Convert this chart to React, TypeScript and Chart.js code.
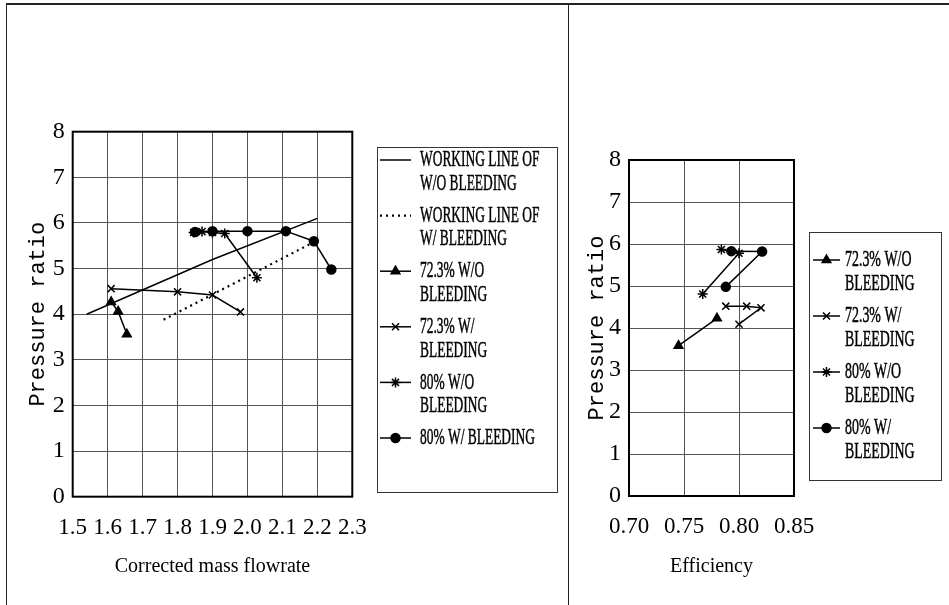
import React, { useEffect, useRef } from 'react';
import { Chart, registerables } from 'chart.js';
import { drawPoint } from 'chart.js/helpers';

Chart.register(...registerables);

// ---- Corrected mass flowrate vs. pressure ratio ----
const workingLineNoBleedX = [1.54, 1.9, 2.2];
const workingLineNoBleedY = [4.0, 5.2, 6.1];
const workingLineBleedX = [1.76, 2.19];
const workingLineBleedY = [3.88, 5.58];
const flow723NoBleedX = [1.61, 1.63, 1.655];
const flow723NoBleedY = [4.27, 4.06, 3.56];
const flow723BleedX = [1.61, 1.8, 1.9, 1.98];
const flow723BleedY = [4.56, 4.49, 4.42, 4.05];
const flow80NoBleedX = [1.846, 1.87, 1.9, 1.935, 2.027];
const flow80NoBleedY = [5.79, 5.81, 5.79, 5.77, 4.8];
const flow80BleedX = [1.85, 1.9, 2.0, 2.11, 2.19, 2.24];
const flow80BleedY = [5.8, 5.82, 5.82, 5.82, 5.6, 4.98];

// ---- Efficiency vs. pressure ratio ----
const eff723NoBleedX = [0.78, 0.745];
const eff723NoBleedY = [4.23, 3.58];
const eff723BleedX = [0.788, 0.807, 0.82, 0.8];
const eff723BleedY = [4.52, 4.52, 4.48, 4.09];
const eff80NoBleedX = [0.784, 0.8, 0.767];
const eff80NoBleedY = [5.87, 5.78, 4.81];
const eff80BleedX = [0.793, 0.821, 0.788];
const eff80BleedY = [5.83, 5.82, 4.98];

// ---- Tick labels ----
const flowTicks = [1.5, 1.6, 1.7, 1.8, 1.9, 2.0, 2.1, 2.2, 2.3];
const effTicks = [0.7, 0.75, 0.8, 0.85];
const ratioTicks = [0, 1, 2, 3, 4, 5, 6, 7, 8];

// ---- Legend text (wrapped lines) ----
const flowLegend = [
  ['WORKING LINE OF', 'W/O BLEEDING'],
  ['WORKING LINE OF', 'W/ BLEEDING'],
  ['72.3% W/O', 'BLEEDING'],
  ['72.3% W/', 'BLEEDING'],
  ['80% W/O', 'BLEEDING'],
  ['80% W/ BLEEDING'],
];
const effLegend = [
  ['72.3% W/O', 'BLEEDING'],
  ['72.3% W/', 'BLEEDING'],
  ['80% W/O', 'BLEEDING'],
  ['80% W/', 'BLEEDING'],
];

const SERIF = '"Liberation Serif", "Times New Roman", serif';
const MONO = '"Liberation Mono", "Courier New", monospace';

const zip = (xs: number[], ys: number[]) => xs.map((x, i) => ({ x, y: ys[i] }));

const lineSeries = (label: string[], xs: number[], ys: number[], extra: any = {}) => ({
  label: label.join(' '),
  legendLines: label,
  data: zip(xs, ys),
  showLine: true,
  borderColor: '#000',
  backgroundColor: '#000',
  borderWidth: 1.5,
  pointRadius: 0,
  pointBorderWidth: 1.5,
  ...extra,
});

// Plot frame drawn around the chart area
const framePlugin = {
  id: 'plotFrame',
  afterDatasetsDraw(chart: any) {
    const { ctx, chartArea } = chart;
    ctx.save();
    ctx.strokeStyle = '#000';
    ctx.lineWidth = 2;
    ctx.strokeRect(chartArea.left, chartArea.top, chartArea.right - chartArea.left, chartArea.bottom - chartArea.top);
    ctx.restore();
  },
};

// Boxed legend with wrapped, condensed labels
const boxLegendPlugin = {
  id: 'boxLegend',
  afterDraw(chart: any, _args: any, opts: any) {
    if (!opts || !opts.box) return;
    const { ctx } = chart;
    const { box, firstLine, entryPitch, linePitch, sampleX0, sampleX1, textX, fontSize, scaleX } = opts;
    ctx.save();
    ctx.strokeStyle = '#333';
    ctx.lineWidth = 1;
    ctx.strokeRect(box.left + 0.5, box.top + 0.5, box.right - box.left, box.bottom - box.top);
    chart.data.datasets.forEach((ds: any, i: number) => {
      const y = firstLine + i * entryPitch;
      ctx.save();
      ctx.strokeStyle = '#000';
      ctx.fillStyle = '#000';
      ctx.lineWidth = ds.borderWidth;
      ctx.setLineDash(ds.borderDash || []);
      ctx.beginPath();
      ctx.moveTo(sampleX0, y);
      ctx.lineTo(sampleX1, y);
      ctx.stroke();
      ctx.setLineDash([]);
      if (ds.pointRadius > 0) {
        ctx.lineWidth = ds.pointBorderWidth;
        drawPoint(ctx, { pointStyle: ds.pointStyle, radius: ds.pointRadius, rotation: 0, borderWidth: ds.pointBorderWidth } as any, (sampleX0 + sampleX1) / 2, y);
      }
      ctx.font = `${fontSize}px ${SERIF}`;
      ctx.textBaseline = 'middle';
      ctx.textAlign = 'left';
      ctx.lineWidth = 0.5;
      (ds.legendLines as string[]).forEach((line, j) => {
        ctx.save();
        ctx.translate(textX, y + j * linePitch);
        ctx.scale(scaleX, 1);
        ctx.fillText(line, 0, 0);
        ctx.strokeText(line, 0, 0);
        ctx.restore();
      });
      ctx.restore();
    });
    ctx.restore();
  },
};

const makeOptions = (cfg: any) => ({
  responsive: false,
  animation: false as const,
  events: [],
  layout: { padding: { left: 0, top: cfg.top, right: cfg.right, bottom: 0 } },
  plugins: {
    legend: { display: false },
    tooltip: { enabled: false },
    boxLegend: cfg.legend,
  },
  scales: {
    x: {
      type: 'linear',
      min: cfg.xTicks[0],
      max: cfg.xTicks[cfg.xTicks.length - 1],
      afterBuildTicks: (s: any) => { s.ticks = cfg.xTicks.map((v: number) => ({ value: v })); },
      afterFit: (s: any) => { s.height = cfg.xHeight; },
      grid: { color: '#555', lineWidth: 1, drawTicks: false },
      border: { display: false },
      ticks: {
        color: '#000',
        padding: 17,
        maxRotation: 0,
        autoSkip: false,
        font: { family: SERIF, size: 23 },
        callback: (v: any) => Number(v).toFixed(cfg.xDigits),
      },
      title: {
        display: true,
        text: cfg.xTitle,
        color: '#000',
        font: { family: SERIF, size: 20 },
        padding: { top: 0, bottom: 26 },
      },
    },
    y: {
      type: 'linear',
      min: 0,
      max: 8,
      afterBuildTicks: (s: any) => { s.ticks = ratioTicks.map((v) => ({ value: v })); },
      afterFit: (s: any) => { s.width = cfg.yWidth; },
      grid: { color: '#555', lineWidth: 1, drawTicks: false },
      border: { display: false },
      ticks: {
        color: '#000',
        padding: 8,
        font: { family: SERIF, size: 24 },
        callback: (v: any) => String(v),
      },
      title: {
        display: true,
        text: 'Pressure ratio',
        color: '#000',
        font: { family: MONO, size: 22 },
        padding: { top: cfg.yTitlePad, bottom: 0 },
      },
    },
  },
});

function ChartCanvas({ config, width, height, style }: any) {
  const ref = useRef<HTMLCanvasElement | null>(null);
  useEffect(() => {
    if (!ref.current) return;
    const chart = new Chart(ref.current, config);
    return () => chart.destroy();
  }, [config]);
  return <canvas ref={ref} width={width} height={height} style={{ position: 'absolute', ...style }} />;
}

const flowConfig: any = {
  type: 'scatter',
  data: {
    datasets: [
      lineSeries(flowLegend[0], workingLineNoBleedX, workingLineNoBleedY),
      lineSeries(flowLegend[1], workingLineBleedX, workingLineBleedY, { borderDash: [2, 4], borderWidth: 2.2 }),
      lineSeries(flowLegend[2], flow723NoBleedX, flow723NoBleedY, { pointStyle: 'triangle', pointRadius: 5 }),
      lineSeries(flowLegend[3], flow723BleedX, flow723BleedY, { pointStyle: 'crossRot', pointRadius: 5 }),
      lineSeries(flowLegend[4], flow80NoBleedX, flow80NoBleedY, { pointStyle: 'star', pointRadius: 5 }),
      lineSeries(flowLegend[5], flow80BleedX, flow80BleedY, { pointStyle: 'circle', pointRadius: 4.5 }),
    ],
  },
  options: makeOptions({
    top: 126.7,
    right: 214.7,
    xHeight: 108.3,
    yWidth: 65.7,
    yTitlePad: 17.8,
    xTicks: flowTicks,
    xDigits: 1,
    xTitle: 'Corrected mass flowrate',
    legend: {
      box: { left: 370, top: 142, right: 550, bottom: 487 },
      firstLine: 155,
      entryPitch: 55.6,
      linePitch: 23.5,
      sampleX0: 373,
      sampleX1: 404,
      textX: 413,
      fontSize: 24,
      scaleX: 0.56,
    },
  }),
  plugins: [framePlugin, boxLegendPlugin],
};

const effConfig: any = {
  type: 'scatter',
  data: {
    datasets: [
      lineSeries(effLegend[0], eff723NoBleedX, eff723NoBleedY, { pointStyle: 'triangle', pointRadius: 5 }),
      lineSeries(effLegend[1], eff723BleedX, eff723BleedY, { pointStyle: 'crossRot', pointRadius: 5 }),
      lineSeries(effLegend[2], eff80NoBleedX, eff80NoBleedY, { pointStyle: 'star', pointRadius: 5 }),
      lineSeries(effLegend[3], eff80BleedX, eff80BleedY, { pointStyle: 'circle', pointRadius: 4.5 }),
    ],
  },
  options: makeOptions({
    top: 155,
    right: 155,
    xHeight: 109,
    yWidth: 60,
    yTitlePad: 14.8,
    xTicks: effTicks,
    xDigits: 2,
    xTitle: 'Efficiency',
    legend: {
      box: { left: 240, top: 227, right: 372, bottom: 475 },
      firstLine: 255,
      entryPitch: 56,
      linePitch: 23.5,
      sampleX0: 244,
      sampleX1: 271,
      textX: 276,
      fontSize: 24,
      scaleX: 0.58,
    },
  }),
  plugins: [framePlugin, boxLegendPlugin],
};

export default function App() {
  const line = { position: 'absolute' as const, background: '#222' };
  return (
    <div style={{ position: 'absolute', left: 0, top: 0, width: 949, height: 605, background: '#fff', overflow: 'hidden' }}>
      <div style={{ ...line, left: 6, top: 3, width: 943, height: 2 }} />
      <div style={{ ...line, left: 6, top: 3, width: 1, height: 602 }} />
      <div style={{ ...line, left: 568, top: 3, width: 1, height: 602 }} />
      <ChartCanvas config={flowConfig} width={560} height={600} style={{ left: 7, top: 5 }} />
      <ChartCanvas config={effConfig} width={380} height={600} style={{ left: 569, top: 5 }} />
    </div>
  );
}
